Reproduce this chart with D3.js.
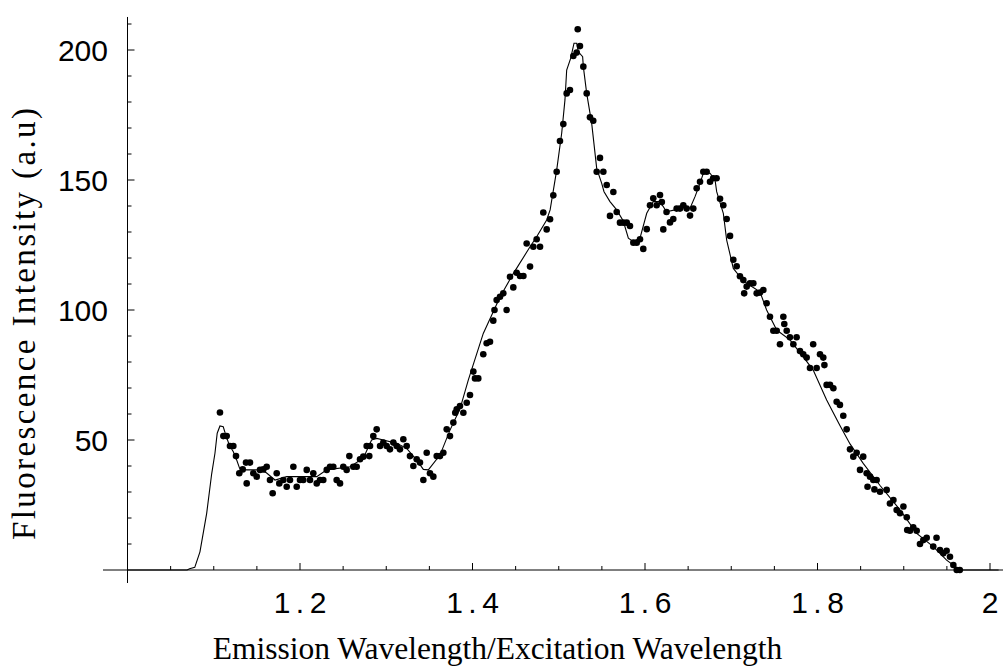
<!DOCTYPE html>
<html>
<head>
<meta charset="utf-8">
<script src="https://cdn.jsdelivr.net/npm/d3@7"></script>
<style>
  html, body { margin: 0; padding: 0; background: #fff; }
  svg { display: block; }
</style>
</head>
<body>
<div id="chart"></div>
<script>
// measured dots (x = emission/excitation ratio, y = intensity)
const dotX = [
  1.1072, 1.1111, 1.1150, 1.1188, 1.1227, 1.1258, 1.1296, 1.1336, 1.1374, 1.1382,
  1.1420, 1.1459, 1.1498, 1.1536, 1.1575, 1.1614, 1.1652, 1.1683, 1.1730, 1.1760,
  1.1807, 1.1846, 1.1884, 1.1923, 1.1962, 1.2000, 1.2038, 1.2078, 1.2116, 1.2154,
  1.2194, 1.2232, 1.2270, 1.2310, 1.2348, 1.2386, 1.2425, 1.2464, 1.2502, 1.2541,
  1.2572, 1.2618, 1.2657, 1.2696, 1.2734, 1.2773, 1.2803, 1.2812, 1.2850, 1.2889,
  1.2928, 1.2966, 1.3005, 1.3043, 1.3082, 1.3121, 1.3159, 1.3198, 1.3237, 1.3275,
  1.3314, 1.3353, 1.3391, 1.3430, 1.3469, 1.3507, 1.3546, 1.3585, 1.3623, 1.3662,
  1.3701, 1.3739, 1.3778, 1.3800, 1.3817, 1.3855, 1.3894, 1.3933, 1.3971, 1.4010,
  1.4029, 1.4067, 1.4125, 1.4164, 1.4203, 1.4241, 1.4255, 1.4280, 1.4319, 1.4357,
  1.4396, 1.4435, 1.4473, 1.4512, 1.4551, 1.4590, 1.4628, 1.4667, 1.4705, 1.4744,
  1.4783, 1.4821, 1.4860, 1.4899, 1.4937, 1.4976, 1.5014, 1.5053, 1.5092, 1.5130,
  1.5169, 1.5208, 1.5220, 1.5246, 1.5285, 1.5324, 1.5362, 1.5400, 1.5440, 1.5478,
  1.5517, 1.5556, 1.5594, 1.5633, 1.5672, 1.5710, 1.5749, 1.5788, 1.5826, 1.5865,
  1.5904, 1.5942, 1.5980, 1.6020, 1.6058, 1.6096, 1.6135, 1.6174, 1.6195, 1.6212,
  1.6250, 1.6290, 1.6328, 1.6367, 1.6406, 1.6444, 1.6483, 1.6522, 1.6560, 1.6599,
  1.6638, 1.6676, 1.6715, 1.6754, 1.6790, 1.6830, 1.6870, 1.6908, 1.6947, 1.6986,
  1.7024, 1.7063, 1.7101, 1.7140, 1.7150, 1.7179, 1.7217, 1.7256, 1.7295, 1.7333,
  1.7372, 1.7410, 1.7449, 1.7488, 1.7527, 1.7565, 1.7604, 1.7615, 1.7643, 1.7680,
  1.7720, 1.7758, 1.7797, 1.7835, 1.7874, 1.7913, 1.7950, 1.7990, 1.8029, 1.8067,
  1.8080, 1.8106, 1.8145, 1.8184, 1.8222, 1.8260, 1.8299, 1.8338, 1.8377, 1.8415,
  1.8454, 1.8493, 1.8530, 1.8570, 1.8580, 1.8609, 1.8647, 1.8660, 1.8686, 1.8725,
  1.8802, 1.8840, 1.8880, 1.8918, 1.8957, 1.8996, 1.9035, 1.9040, 1.9072, 1.9110,
  1.9150, 1.9188, 1.9227, 1.9266, 1.9342, 1.9380, 1.9420, 1.9459, 1.9497, 1.9536,
  1.9575, 1.9614, 1.9650
];
const dotY = [
  60.6, 51.5, 51.5, 47.7, 47.7, 43.8, 37.2, 38.7, 41.3, 33.3,
  41.3, 37.2, 35.9, 38.5, 38.7, 39.7, 34.6, 29.5, 37.2, 33.3,
  34.6, 32.0, 34.6, 39.7, 32.0, 34.6, 34.6, 38.5, 34.6, 37.2,
  33.3, 34.6, 34.6, 38.5, 39.7, 39.7, 34.6, 33.3, 39.7, 38.5,
  43.8, 39.7, 39.7, 42.6, 43.6, 47.7, 43.8, 47.7, 51.5, 54.1,
  47.7, 49.0, 47.7, 46.4, 49.0, 47.7, 46.4, 50.3, 47.7, 43.8,
  40.0, 42.6, 41.3, 34.6, 45.1, 37.2, 35.9, 43.8, 43.8, 45.1,
  54.1, 51.5, 56.7, 60.5, 61.8, 63.1, 60.5, 64.3, 67.3, 76.3,
  73.7, 73.7, 83.0, 87.2, 87.8, 95.9, 100.0, 103.8, 105.1, 106.4,
  100.0, 112.8, 108.7, 114.3, 113.1, 113.1, 125.6, 116.7, 124.3, 127.2,
  124.3, 137.5, 131.0, 134.9, 144.1, 153.2, 165.0, 171.5, 183.3, 184.6,
  197.7, 199.0, 208.0, 201.5, 193.6, 183.3, 174.1, 172.8, 153.2, 158.5,
  153.2, 148.1, 136.2, 145.4, 137.7, 133.6, 133.6, 133.6, 132.3, 125.9,
  125.9, 127.2, 123.5, 131.1, 140.3, 143.0, 140.3, 144.2, 141.5, 131.0,
  137.7, 133.7, 135.0, 139.0, 139.0, 140.3, 139.0, 136.3, 139.0, 146.8,
  149.3, 153.2, 153.2, 149.3, 150.7, 150.7, 142.8, 140.3, 135.0, 128.5,
  119.3, 116.8, 113.0, 111.5, 106.4, 109.0, 110.3, 110.3, 106.4, 106.7,
  107.7, 102.6, 97.4, 92.0, 92.0, 86.8, 97.4, 94.6, 92.0, 89.5,
  86.8, 89.5, 84.2, 83.0, 81.7, 77.7, 86.8, 77.7, 83.0, 81.7,
  78.8, 71.2, 71.2, 69.9, 64.7, 63.5, 59.3, 54.1, 46.4, 43.6,
  45.1, 38.5, 43.6, 37.2, 32.0, 35.9, 34.6, 31.0, 34.6, 30.1,
  30.8, 25.6, 26.9, 23.1, 21.8, 24.4, 20.3, 15.4, 15.1, 16.4,
  15.1, 10.0, 11.5, 12.4, 9.0, 12.4, 7.7, 6.4, 7.4, 5.1,
  1.9, 0.0, 0.0
];

// fitted curve
const fitX = [
  1.000, 1.069, 1.072, 1.078, 1.084, 1.0918, 1.0976, 1.1014, 1.104, 1.1072,
  1.111, 1.114, 1.118, 1.1227, 1.1266, 1.130, 1.138, 1.1536, 1.161, 1.171,
  1.1846, 1.2194, 1.231, 1.258, 1.2734, 1.283, 1.289, 1.2966, 1.312, 1.3237,
  1.3353, 1.343, 1.3488, 1.3623, 1.3739, 1.3855, 1.3951, 1.4125, 1.4319, 1.4473,
  1.4667, 1.4744, 1.486, 1.490, 1.4976, 1.5034, 1.5072, 1.5092, 1.5138, 1.5177,
  1.5208, 1.5227, 1.5277, 1.5285, 1.5324, 1.5382, 1.544, 1.5498, 1.5525, 1.5594,
  1.5672, 1.5748, 1.5807, 1.5865, 1.5942, 1.602, 1.6096, 1.6174, 1.625, 1.6348,
  1.6444, 1.6522, 1.658, 1.6638, 1.6676, 1.6754, 1.6812, 1.6831, 1.6908, 1.6947,
  1.7024, 1.7101, 1.7179, 1.7333, 1.741, 1.7527, 1.768, 1.7835, 1.795, 1.8106,
  1.826, 1.8377, 1.853, 1.8725, 1.8957, 1.915, 1.9342, 1.9497, 1.965, 2.010
];
const fitY = [
  0, 0, 0.5, 1, 7, 21.8, 37, 44.9, 52.6, 55.4,
  55.1, 51.9, 48.1, 45.5, 42.3, 39.1, 38.5, 38.5, 37.4, 34.6,
  35.9, 35.9, 38.5, 39.7, 43, 50, 50.6, 50, 48.7, 46.8,
  42.3, 38.7, 38.5, 44.2, 53.8, 62, 73, 91, 105, 114,
  124.3, 128.2, 134.6, 138.5, 153.8, 168, 180.8, 192.3, 196.8, 202.6,
  202.6, 199.3, 197.4, 193.6, 183.3, 171.8, 154.5, 148.7, 145.5, 141.7,
  138.5, 134.2, 127.6, 126.3, 127.6, 137.2, 141.7, 141.7, 137.8, 138.5,
  140.4, 139.1, 143.6, 148.7, 152.6, 152.6, 150, 145.5, 137.2, 126.9,
  116, 112.8, 110.3, 107, 100, 92.3, 88.5, 82, 76.9, 65.4,
  55.6, 48.5, 41, 32.5, 23.1, 14.1, 9, 3.8, 0, 0
];

const xMajor = [1.2, 1.4, 1.6, 1.8, 2];
const xLabels = ["1.2", "1.4", "1.6", "1.8", "2"];
const xMinor = [1.05, 1.1, 1.15, 1.25, 1.3, 1.35, 1.45, 1.5, 1.55, 1.65, 1.7, 1.75, 1.85, 1.9, 1.95];
const yMajor = [50, 100, 150, 200];
const yLabels = ["50", "100", "150", "200"];
const yMinor = [10, 20, 30, 40, 60, 70, 80, 90, 110, 120, 130, 140, 160, 170, 180, 190, 210];

const W = 1003, H = 670;

const svg = d3.select("#chart").append("svg")
    .attr("width", W)
    .attr("height", H);

const x = d3.scaleLinear().domain([1.0, 2.0]).range([127.5, 990]);
const y = d3.scaleLinear().domain([0, 200]).range([570, 50]);

// Axes (Mathematica style: crossing at (1, 0), ticks pointing inward)
const ax = svg.append("g").attr("stroke", "#000").attr("stroke-width", 1).attr("fill", "none");

ax.append("line")
    .attr("x1", x(0.9716)).attr("x2", W)
    .attr("y1", y(0)).attr("y2", y(0));
ax.append("line")
    .attr("x1", x(1)).attr("x2", x(1))
    .attr("y1", y(-5)).attr("y2", y(212.7));

ax.selectAll(".xmaj").data(xMajor).enter().append("line")
    .attr("x1", d => x(d)).attr("x2", d => x(d))
    .attr("y1", y(0)).attr("y2", y(0) - 7);
ax.selectAll(".xmin").data(xMinor).enter().append("line")
    .attr("x1", d => x(d)).attr("x2", d => x(d))
    .attr("y1", y(0)).attr("y2", y(0) - 4);
ax.selectAll(".ymaj").data(yMajor).enter().append("line")
    .attr("x1", x(1)).attr("x2", x(1) + 7)
    .attr("y1", d => y(d)).attr("y2", d => y(d));
ax.selectAll(".ymin").data(yMinor).enter().append("line")
    .attr("x1", x(1)).attr("x2", x(1) + 4)
    .attr("y1", d => y(d)).attr("y2", d => y(d));

// tick labels
svg.selectAll(".ylab").data(yMajor).enter().append("text")
    .attr("x", 108)
    .attr("y", d => y(d))
    .attr("dy", "0.36em")
    .attr("text-anchor", "end")
    .style("font-family", "'Liberation Sans', Arial, sans-serif")
    .style("font-size", "30px")
    .text((d, i) => yLabels[i]);

// x labels look monospaced: one cell per character
const pitch = 18;
xMajor.forEach((v, i) => {
    const s = xLabels[i];
    const t = svg.append("text")
        .attr("text-anchor", "middle")
        .style("font-family", "'Liberation Sans', Arial, sans-serif")
        .style("font-size", "30px");
    s.split("").forEach((ch, k) => {
        t.append("tspan")
            .attr("x", x(v) + (k - (s.length - 1) / 2) * pitch)
            .attr("y", 613)
            .text(ch);
    });
});

// axis titles
svg.append("text")
    .attr("x", 497.5)
    .attr("y", 659)
    .attr("text-anchor", "middle")
    .style("font-family", "'Liberation Serif', 'Times New Roman', serif")
    .style("font-size", "31.5px")
    .text("Emission Wavelength/Excitation Wavelength");

svg.append("text")
    .attr("transform", "translate(35,324) rotate(-90)")
    .attr("text-anchor", "middle")
    .attr("textLength", 432)
    .attr("lengthAdjust", "spacing")
    .style("font-family", "'Liberation Serif', 'Times New Roman', serif")
    .style("font-size", "33px")
    .text("Fluorescence Intensity (a.u)");

// fitted line
const line = d3.line()
    .x((d, i) => x(fitX[i]))
    .y(d => y(d));

svg.append("path")
    .datum(fitY)
    .attr("fill", "none")
    .attr("stroke", "#000")
    .attr("stroke-width", 1.1)
    .attr("d", line);

// data points
svg.selectAll(".pt").data(dotY).enter().append("circle")
    .attr("class", "pt")
    .attr("cx", (d, i) => x(dotX[i]))
    .attr("cy", d => y(d))
    .attr("r", 3.3)
    .attr("fill", "#000");
</script>
</body>
</html>
